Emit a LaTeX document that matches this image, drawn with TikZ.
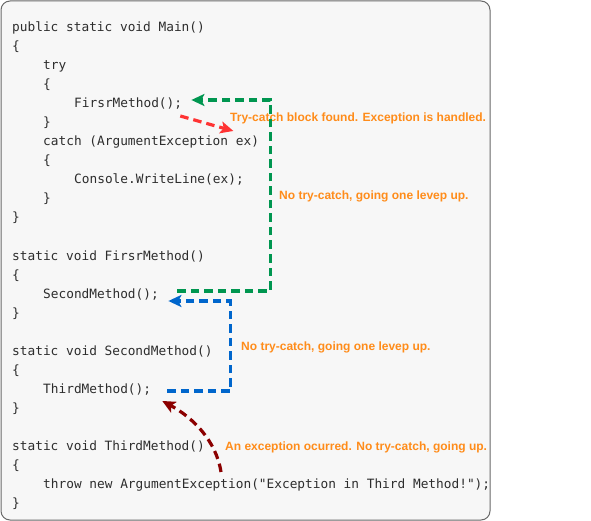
\documentclass[tikz,border=0pt]{standalone}
\usepackage{fontspec}
\setmonofont{DejaVu Sans Mono}
\setsansfont{Liberation Sans}
\usetikzlibrary{arrows.meta}

\definecolor{boxfill}{RGB}{247,247,247}
\definecolor{boxline}{RGB}{105,105,105}
\definecolor{codetext}{RGB}{45,45,45}
\definecolor{noteorange}{RGB}{255,140,26}
\definecolor{upgreen}{RGB}{0,150,80}
\definecolor{upblue}{RGB}{0,102,204}
\definecolor{handred}{RGB}{255,51,51}
\definecolor{throwred}{RGB}{139,0,0}

\begin{document}
\begin{tikzpicture}[x=1pt, y=-1pt,
	code/.style={anchor=base west, inner sep=0pt, text=codetext, font=\ttfamily\fontsize{12.8}{19}\selectfont},
	note/.style={anchor=base west, inner sep=0pt, text=noteorange, font=\sffamily\bfseries\fontsize{12}{14}\selectfont},
	flow/.style={dashed, dash pattern=on 8.5pt off 5pt, line width=3.2pt, -{Stealth[length=13pt, width=12pt, inset=3pt]}}]
		\def\yn{19}
		\def\xn{31}
		\def\xa{12}
		\def\ya{32}
		\useasboundingbox (0, 0) rectangle (591, 521);
		\draw[boxline, fill=boxfill, rounded corners=9pt, line width=1pt] (1, 1) rectangle (490, 520);
		% public static void Main()
		\node[code] (mainhead) at (\xa, \ya) {public static void Main()};
		\node[code] (mainopen) at (\xa, \ya+\yn) {\{};
		\node[code] (trykw) at (\xa+\xn, \ya+2*\yn) {try};
		\node[code] (tryopen) at (\xa+\xn, \ya+3*\yn) {\{};
		\node[code] (first) at (\xa+2*\xn, \ya+4*\yn) {FirsrMethod();};
		\node[code] (tryclose) at (\xa+\xn, \ya+5*\yn) {\}};
		\node[code] (catch) at (\xa+\xn, \ya+6*\yn) {catch (ArgumentException ex)};
		\node[code] (catchopen) at (\xa+\xn, \ya+7*\yn) {\{};
		\node[code] (console) at (\xa+2*\xn, \ya+8*\yn) {Console.WriteLine(ex);};
		\node[code] (catchclose) at (\xa+\xn, \ya+9*\yn) {\}};
		\node[code] (mainclose) at (\xa, \ya+10*\yn) {\}};
		% static void FirsrMethod()
		\node[code] (firsthead) at (\xa, \ya+12*\yn) {static void FirsrMethod()};
		\node[code] (firstopen) at (\xa, \ya+13*\yn) {\{};
		\node[code] (second) at (\xa+\xn, \ya+14*\yn) {SecondMethod();};
		\node[code] (firstclose) at (\xa, \ya+15*\yn) {\}};
		% static void SecondMethod()
		\node[code] (secondhead) at (\xa, \ya+17*\yn) {static void SecondMethod()};
		\node[code] (secondopen) at (\xa, \ya+18*\yn) {\{};
		\node[code] (third) at (\xa+\xn, \ya+19*\yn) {ThirdMethod();};
		\node[code] (secondclose) at (\xa, \ya+20*\yn) {\}};
		% static void ThirdMethod()
		\node[code] (thirdhead) at (\xa, \ya+22*\yn) {static void ThirdMethod()};
		\node[code] (thirdopen) at (\xa, \ya+23*\yn) {\{};
		\node[code] (throw) at (\xa+\xn, \ya+24*\yn) {throw new ArgumentException("Exception in Third Method!");};
		\node[code] (thirdclose) at (\xa, \ya+25*\yn) {\}};
		% notes
		\node[note] (handled) at (230, 122) {Try-catch block found. Exception is handled.};
		\node[note] (upone) at (279, 200) {No try-catch, going one levep up.};
		\node[note] (uptwo) at (241, 350) {No try-catch, going one levep up.};
		\node[note] (occurred) at (225, 450) {An exception ocurred. No try-catch, going up.};
		% arrows
		\draw[flow, throwred] ([xshift=178pt, yshift=16pt]throw.base west) .. controls (216, 440) and (192, 417) .. ([xshift=11pt, yshift=-8pt]third.base east);
		\draw[flow, upblue] ([xshift=16pt, yshift=2pt]third.base east) -- ++(63, 0) |- ([xshift=9.4pt, yshift=-3pt]second.base east);
		\draw[flow, upgreen] ([xshift=18.4pt, yshift=7pt]second.base east) -- ++(93, 0) |- ([xshift=9.1pt, yshift=8pt]first.base east);
		\draw[flow, handred] ([xshift=-2pt, yshift=-8pt]first.base east) -- ([xshift=-25.8pt, yshift=15pt]catch.base east);
	\end{tikzpicture}
\end{document}
